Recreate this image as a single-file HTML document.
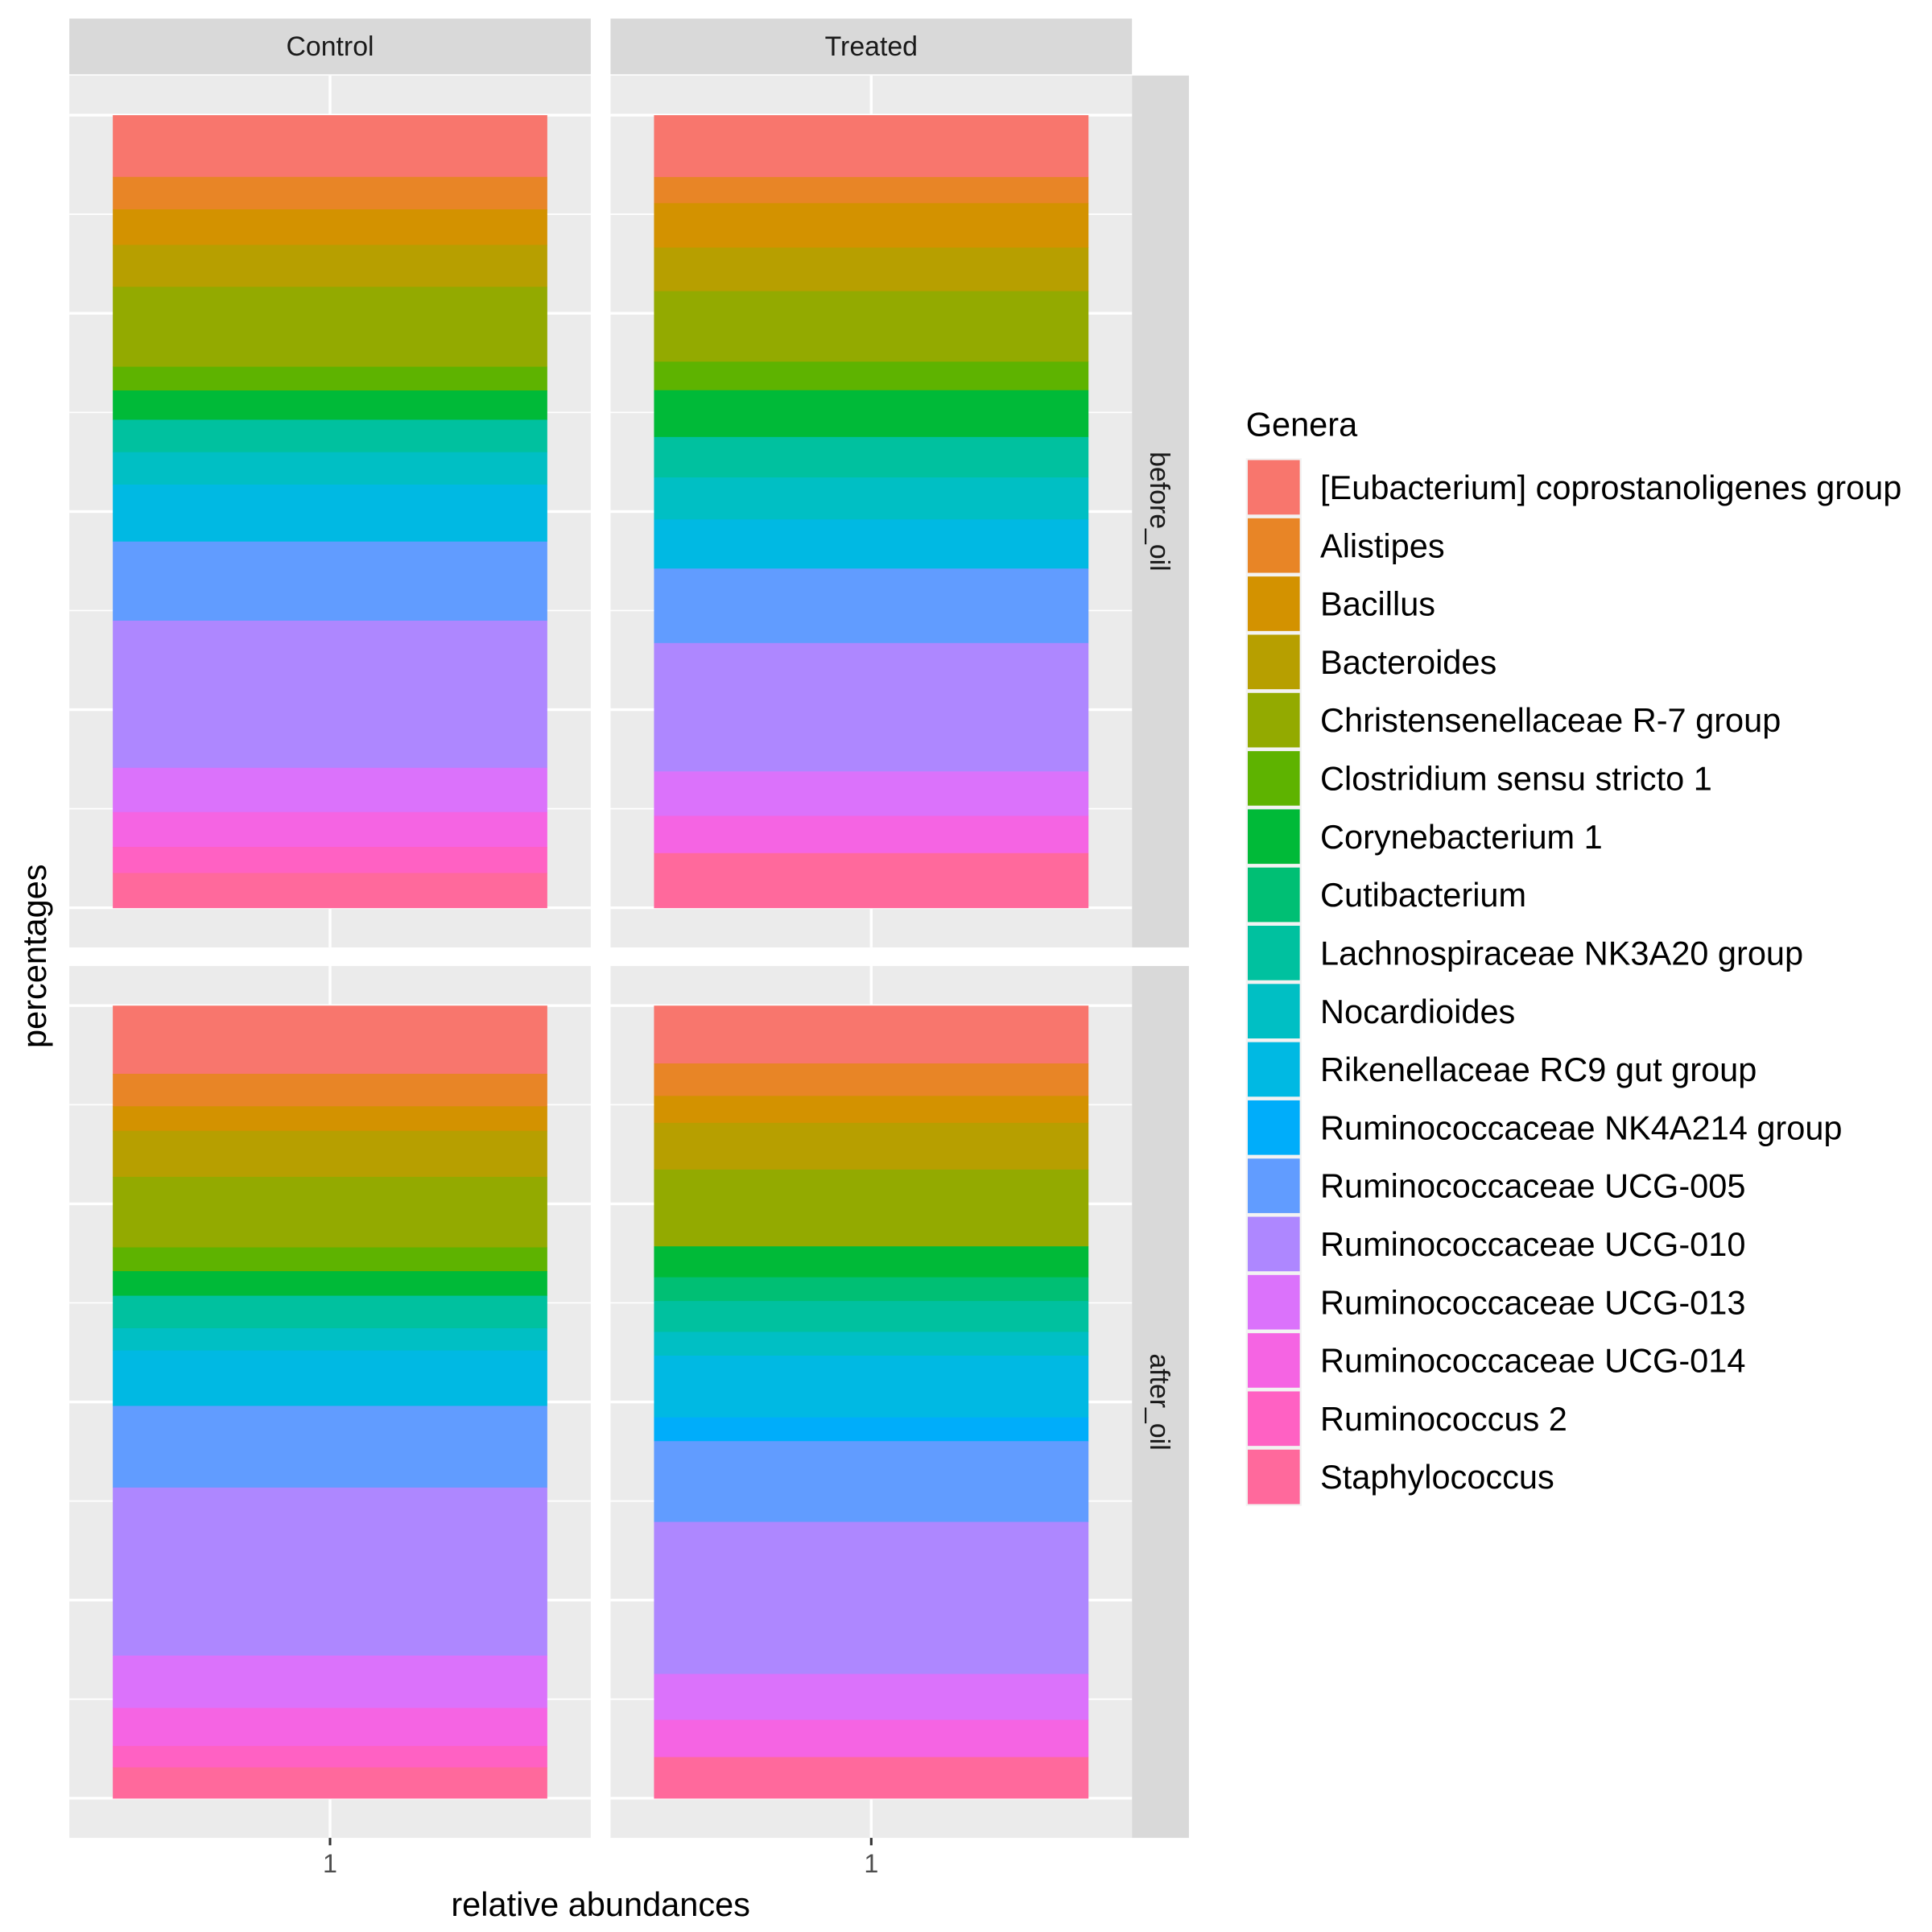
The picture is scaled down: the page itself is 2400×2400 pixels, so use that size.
<!DOCTYPE html>
<html><head><meta charset="utf-8">
<style>html,body{margin:0;padding:0;background:#fff}svg{display:block}text{font-family:"Liberation Sans",sans-serif}</style>
</head><body>
<svg id="chart" width="2400" height="2400" viewBox="0 0 1560 1560" xmlns="http://www.w3.org/2000/svg">
<rect x="0" y="0" width="1560" height="1560" fill="#fff"/>
<g id="panels"></g>
<g id="legend"></g>
<text x="485" y="1547" font-size="27" text-anchor="middle" fill="#000">relative abundances</text>
<text transform="translate(37,772) rotate(-90)" font-size="27" text-anchor="middle" fill="#000">percentages</text>
</svg>
<script>
const genera = ["[Eubacterium] coprostanoligenes group","Alistipes","Bacillus","Bacteroides","Christensenellaceae R-7 group","Clostridium sensu stricto 1","Corynebacterium 1","Cutibacterium","Lachnospiraceae NK3A20 group","Nocardioides","Rikenellaceae RC9 gut group","Ruminococcaceae NK4A214 group","Ruminococcaceae UCG-005","Ruminococcaceae UCG-010","Ruminococcaceae UCG-013","Ruminococcaceae UCG-014","Ruminococcus 2","Staphylococcus"];
const colors = ["#F8766D","#E88526","#D39200","#B79F00","#93AA00","#5EB300","#00BA38","#00BF74","#00C19F","#00BFC4","#00B9E3","#00ADFA","#619CFF","#AE87FF","#DB72FB","#F564E3","#FF61C3","#FF699C"];
const controlBefore = [7.8,4.1,4.5,5.3,10.1,3.0,3.7,0,4.1,4.1,7.2,0,10.0,18.6,5.6,4.4,3.3,4.4];
const treatedBefore = [7.8,3.3,5.6,5.5,8.9,3.6,5.9,0,5.1,5.3,6.2,0,9.4,16.2,5.6,4.7,0,6.9];
const controlAfter = [8.6,4.1,3.1,5.8,8.9,3.0,3.1,0,4.1,2.8,7.0,0,10.3,21.2,6.6,4.8,2.7,3.9];
const treatedAfter = [7.3,4.1,3.4,5.9,9.7,0,3.9,3.0,3.9,3.0,7.8,3.0,10.2,19.2,5.8,4.7,0,5.2];
const colFacets = ["Control","Treated"];
const rowFacets = ["before_oil","after_oil"];
const xTickLabels = ["1"];
const yBreaks = [0,0.25,0.5,0.75,1];
const yMinor = [0.125,0.375,0.625,0.875];

const NS="http://www.w3.org/2000/svg";
function mk(tag,attrs,parent){const e=document.createElementNS(NS,tag);for(const k in attrs)e.setAttribute(k,attrs[k]);parent.appendChild(e);return e;}
const panelsG=document.getElementById('panels');
const panelData=[[controlBefore,treatedBefore],[controlAfter,treatedAfter]];
const colX=[56,493], panelW=421, rowY=[61,780], panelH=704;
function xScale(col,v){const lo=0.4,hi=1.6;return colX[col]+(v-lo)/(hi-lo)*panelW;}
function yScale(row,v){const pad=panelH/22;return rowY[row]+panelH-pad-v*(panelH-2*pad);}

for(let c=0;c<2;c++){
  const st=mk('rect',{x:colX[c],y:15,width:panelW,height:45,fill:'#d9d9d9'},panelsG);
  
  
  const t=mk('text',{x:colX[c]+panelW/2,y:45,'font-size':'22','text-anchor':'middle',fill:'#1a1a1a'},panelsG);
  t.textContent=colFacets[c];
  
  
}
for(let r=0;r<2;r++){
  const st=mk('rect',{x:914,y:rowY[r],width:46,height:panelH,fill:'#d9d9d9'},panelsG);
  
  
  const cy=rowY[r]+panelH/2;
  const t=mk('text',{transform:`translate(929,${cy}) rotate(90)`,'font-size':'22','text-anchor':'middle',fill:'#1a1a1a'},panelsG);
  t.textContent=rowFacets[r];
  
  
}
for(let r=0;r<2;r++)for(let c=0;c<2;c++){
  const g=mk('g',{},panelsG);
  
  
  mk('rect',{x:colX[c],y:rowY[r],width:panelW,height:panelH,fill:'#ebebeb'},g);
  yMinor.forEach(v=>{const y=yScale(r,v);const l=mk('line',{x1:colX[c],x2:colX[c]+panelW,y1:y,y2:y,stroke:'#fff','stroke-width':1.1},g);
    });
  yBreaks.forEach(v=>{const y=yScale(r,v);const l=mk('line',{x1:colX[c],x2:colX[c]+panelW,y1:y,y2:y,stroke:'#fff','stroke-width':2.2},g);
    });
  const xc=xScale(c,1);
  const vl=mk('line',{x1:xc,x2:xc,y1:rowY[r],y2:rowY[r]+panelH,stroke:'#fff','stroke-width':2.2},g);
  
  const vals=panelData[r][c];const tot=vals.reduce((a,b)=>a+b,0);
  let cum=1;const x0=xScale(c,0.5),x1=xScale(c,1.5);
  vals.forEach((v,i)=>{
    if(v<=0)return;const f=v/tot;const yt=yScale(r,cum),yb=yScale(r,cum-f);cum-=f;
    const b=mk('rect',{x:x0,y:yt,width:x1-x0,height:yb-yt+0.3,fill:colors[i]},g);
    
    
  });
}
for(let c=0;c<2;c++){
  const xc=xScale(c,1);
  const tk=mk('line',{x1:xc,x2:xc,y1:1484,y2:1490,stroke:'#333','stroke-width':2},panelsG);
  
  const t=mk('text',{x:xc,y:1512,'font-size':'21','text-anchor':'middle',fill:'#4d4d4d'},panelsG);
  t.textContent=xTickLabels[0];
  
}
const lg=document.getElementById('legend');
const lt=mk('text',{x:1006,y:352,'font-size':'27',fill:'#000'},lg);
lt.textContent='Genera';

genera.forEach((name,i)=>{
  const y=370+i*47;
  const e=mk('g',{},lg);
  
  
  mk('rect',{x:1006,y:y,width:45,height:47,fill:'#f2f2f2'},e);
  mk('rect',{x:1007.5,y:y+1.5,width:42,height:44,fill:colors[i]},e);
  const t=mk('text',{x:1066,y:y+33,'font-size':'27',fill:'#000'},e);
  t.textContent=name;
});
</script>
</body></html>
